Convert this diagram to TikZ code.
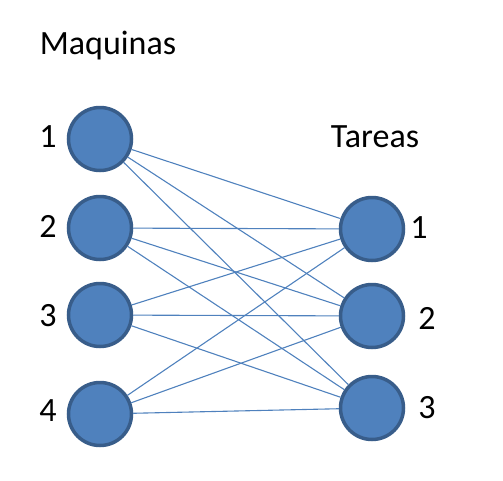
\documentclass[tikz,border=0pt]{standalone}
\usepackage{fontspec}
\setmainfont{Carlito}
\usetikzlibrary{positioning}
\definecolor{nodefill}{HTML}{4F81BD}
\definecolor{nodeline}{HTML}{385D8A}
\tikzset{
	job/.style={circle,draw=nodeline,fill=nodefill,line width=3.5pt,minimum size=63pt,inner sep=0pt},
	lbl/.style={font=\fontsize{34}{40}\selectfont,inner sep=0pt},
	link/.style={draw=nodefill,line width=1.1pt}
}
\begin{document}
\begin{tikzpicture}[x=1pt,y=-1pt]
            \useasboundingbox (0,0) rectangle (503,480);
            \node[lbl] (maq) at (108,46) {Maquinas};
            \node[lbl] (tar) at (375,137) {Tareas};
            \node[job] (m1) at (100,139) {};
            \node[job] (m2) at (100,228) {};
            \node[job] (m3) at (100,315) {};
            \node[job] (m4) at (100,414) {};
            \node[job] (t1) at (372,229) {};
            \node[job] (t2) at (372,316) {};
            \node[job] (t3) at (372,408) {};
            \node[lbl] (lm1) at (48,137) {1};
            \node[lbl] (lm2) at (48,226) {2};
            \node[lbl] (lm3) at (48,316) {3};
            \node[lbl] (lm4) at (48,411) {4};
            \node[lbl] (lt1) at (419,228) {1};
            \node[lbl] (lt2) at (427,318) {2};
            \node[lbl] (lt3) at (427,408) {3};
            \foreach \m in {1,...,4}
                \foreach \t in {1,2,3}
                    \draw[link] (m\m) -- (t\t);
        \end{tikzpicture}
\end{document}
